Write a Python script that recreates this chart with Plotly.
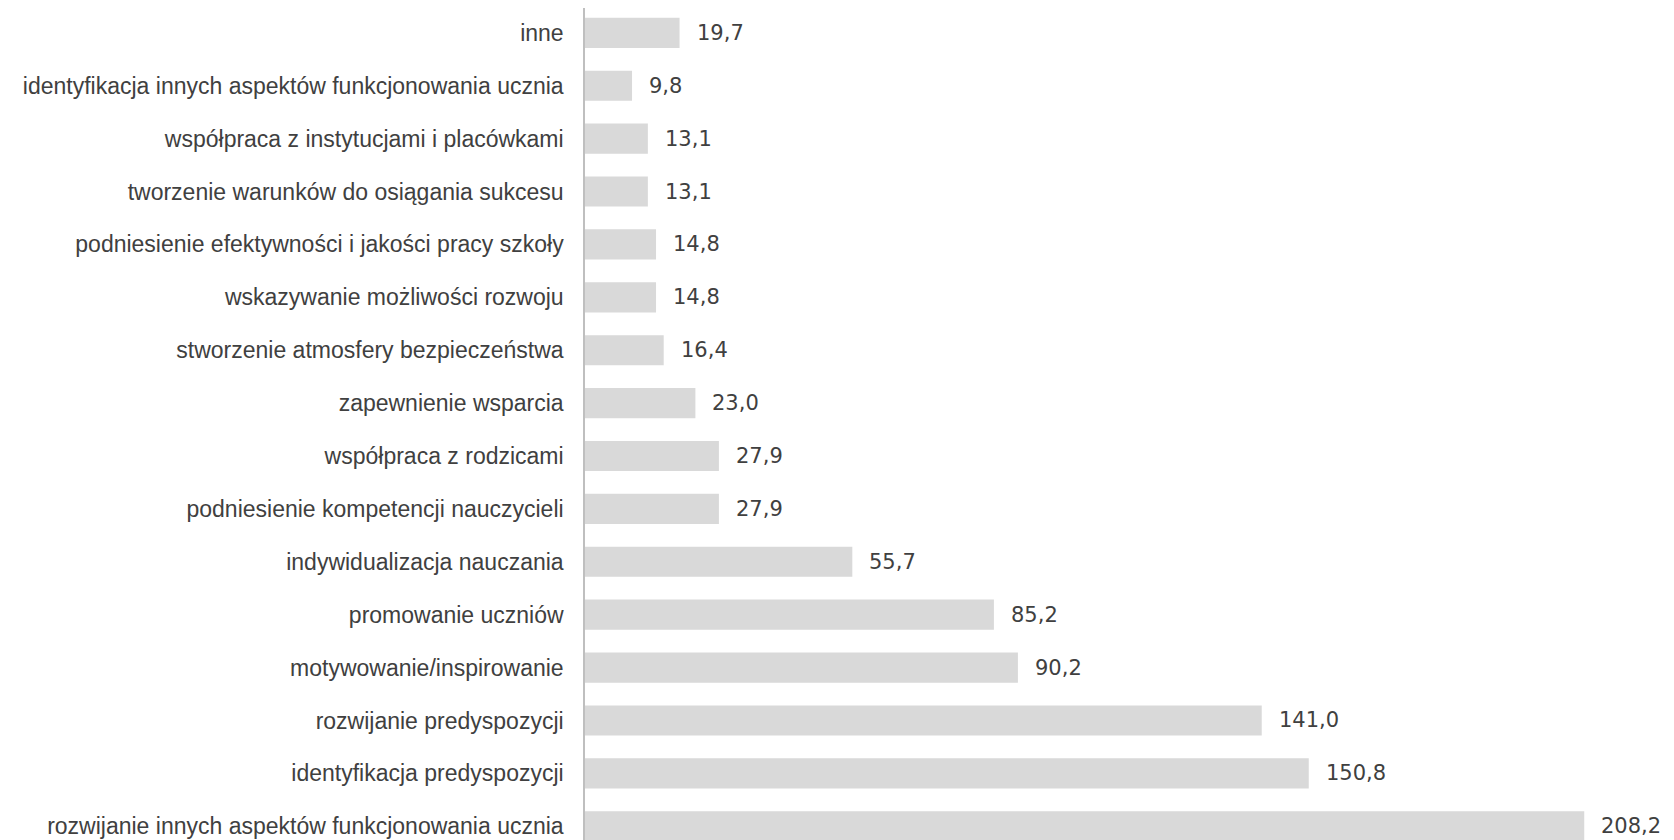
import plotly.graph_objects as go

# categories listed from bottom to top (plotly draws the first category at the bottom)
categories = [
    "rozwijanie innych aspektów funkcjonowania ucznia",
    "identyfikacja predyspozycji",
    "rozwijanie predyspozycji",
    "motywowanie/inspirowanie",
    "promowanie uczniów",
    "indywidualizacja nauczania",
    "podniesienie kompetencji nauczycieli",
    "współpraca z rodzicami",
    "zapewnienie wsparcia",
    "stworzenie atmosfery bezpieczeństwa",
    "wskazywanie możliwości rozwoju",
    "podniesienie efektywności i jakości pracy szkoły",
    "tworzenie warunków do osiągania sukcesu",
    "współpraca z instytucjami i placówkami",
    "identyfikacja innych aspektów funkcjonowania ucznia",
    "inne",
]
values = [208.2, 150.8, 141.0, 90.2, 85.2, 55.7, 27.9, 27.9, 23.0, 16.4,
          14.8, 14.8, 13.1, 13.1, 9.8, 19.7]

value_labels = [f"{v:.1f}".replace(".", ",") for v in values]

fig = go.Figure()
fig.add_trace(go.Bar(
    x=values,
    y=categories,
    orientation="h",
    marker=dict(color="#d9d9d9", line=dict(width=0)),
    hoverinfo="skip",
))

# value labels to the right of each bar
for cat, v, lab in zip(categories, values, value_labels):
    fig.add_annotation(
        x=v, y=cat, text=lab, showarrow=False,
        xanchor="left", xshift=15,
        font=dict(family="DejaVu Sans", size=21, color="#404040"),
    )

# the page body adds an 8px margin, so the figure is a bit smaller than the window
fig.update_layout(
    width=1666,
    height=832,
    margin=dict(l=577, r=0, t=0, b=0),
    plot_bgcolor="white",
    paper_bgcolor="white",
    showlegend=False,
    bargap=0.43,
    xaxis=dict(
        range=[0, 226.9],
        visible=False,
        showgrid=False,
        zeroline=False,
    ),
    yaxis=dict(
        range=[-0.26, 15.47],
        showgrid=False,
        zeroline=False,
        showline=True,
        linecolor="#bfbfbf",
        linewidth=1.5,
        ticks="",
        ticklabelstandoff=15,
        tickfont=dict(family="Liberation Sans", size=23, color="#404040"),
    ),
)

fig.write_html("out.html")
